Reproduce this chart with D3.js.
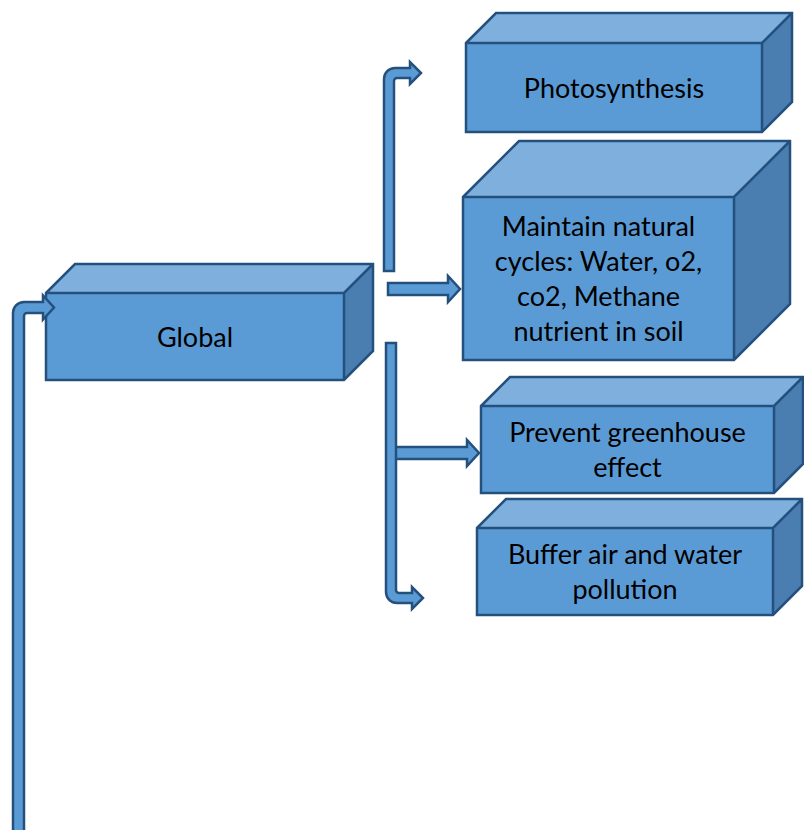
<!DOCTYPE html>
<html>
<head>
<meta charset="utf-8">
<script src="https://cdn.jsdelivr.net/npm/d3@7"></script>
<style>
  body { margin: 0; background: #fff; }
  svg { display: block; }
</style>
</head>
<body>
<div id="graph-01"></div>
<script>
(function(){
    var WIDTH  = 804,
        HEIGHT = 830;

    // box labels (one line per entry)
    var labels = [
        ['Global'],
        ['Photosynthesis'],
        ['Maintain natural', 'cycles: Water, o2,', 'co2, Methane', 'nutrient in soil'],
        ['Prevent greenhouse', 'effect'],
        ['Buffer air and water', 'pollution']
    ];

    // front face [x0, y0, x1, y1] and depth of each box
    var boxFront = [
        [46, 293, 344, 380],
        [466, 43, 762, 132],
        [463, 197, 734, 360],
        [481, 406, 774, 493],
        [477, 528, 773, 615]
    ];
    var boxDepth = [29, 30, 56, 29, 29];

    var FRONT  = '#5b9bd5',
        TOP    = '#7eafdd',
        SIDE   = '#4a7db0',
        STROKE = '#24507e',
        LINE_H = 35;

    var svg = d3.select('div#graph-01')
        .append('svg')
        .attr('width', WIDTH)
        .attr('height', HEIGHT);

    var boxG = svg.append('g').attr('class', 'boxes');
    var arrowG = svg.append('g').attr('class', 'arrows');

    // ---- arrows ----
    // bent arrow: vertical shaft [xl, xr] from yEnd to the turn, then right to a head
    function bentArrow(o){
        var p = d3.path();
        var R = 11, r = 3;
        if(o.up){
            // shaft top edge at o.yTurn, horizontal shaft o.yTurn .. o.yTurn + w
            var w = o.xr - o.xl, yt = o.yTurn, yb = yt + w, yc = (yt + yb) / 2;
            p.moveTo(o.xl, o.yEnd);
            p.lineTo(o.xl, yt + R);
            p.arcTo(o.xl, yt, o.xl + R, yt, R);
            p.lineTo(o.base, yt);
            p.lineTo(o.base, yc - o.half);
            p.lineTo(o.tip, yc);
            p.lineTo(o.base, yc + o.half);
            p.lineTo(o.base, yb);
            p.lineTo(o.xr + r, yb);
            p.arcTo(o.xr, yb, o.xr, yb + r, r);
            p.lineTo(o.xr, o.yEnd);
            p.closePath();
        } else {
            var w2 = o.xr - o.xl, yb2 = o.yTurn, yt2 = yb2 - w2, yc2 = (yt2 + yb2) / 2;
            p.moveTo(o.xl, o.yEnd);
            p.lineTo(o.xl, yb2 - R);
            p.arcTo(o.xl, yb2, o.xl + R, yb2, R);
            p.lineTo(o.base, yb2);
            p.lineTo(o.base, yc2 + o.half);
            p.lineTo(o.tip, yc2);
            p.lineTo(o.base, yc2 - o.half);
            p.lineTo(o.base, yt2);
            p.lineTo(o.xr + r, yt2);
            p.arcTo(o.xr, yt2, o.xr, yt2 - r, r);
            p.lineTo(o.xr, o.yEnd);
            p.closePath();
        }
        return p.toString();
    }

    function straightArrow(o){
        var yc = (o.y0 + o.y1) / 2;
        return 'M' + o.x0 + ',' + o.y0 +
            'L' + o.base + ',' + o.y0 +
            'L' + o.base + ',' + (yc - o.half) +
            'L' + o.tip + ',' + yc +
            'L' + o.base + ',' + (yc + o.half) +
            'L' + o.base + ',' + o.y1 +
            'L' + o.x0 + ',' + o.y1 + 'Z';
    }

    var arrows = [
        bentArrow({ up: true,  xl: 13,  xr: 24,  yEnd: 834, yTurn: 302, base: 43,  tip: 54,  half: 12 }),
        bentArrow({ up: true,  xl: 384, xr: 394, yEnd: 271, yTurn: 68,  base: 410, tip: 421, half: 11 }),
        straightArrow({ x0: 388, y0: 283, y1: 295, base: 448, tip: 460, half: 13 }),
        straightArrow({ x0: 395, y0: 447, y1: 459, base: 467, tip: 479, half: 13 }),
        bentArrow({ up: false, xl: 386, xr: 396, yEnd: 343, yTurn: 603, base: 412, tip: 423, half: 11 })
    ];

    // ---- 3d boxes ----
    var boxes = labels.map(function(l, i){
        return { lines: l, f: boxFront[i], d: boxDepth[i] };
    });

    var b = boxG.selectAll('g.box')
        .data(boxes)
        .enter().append('g')
        .attr('class', 'box');

    b.append('polygon')
        .attr('points', function(d){
            var f = d.f, k = d.d;
            return [[f[0], f[1]], [f[0] + k, f[1] - k], [f[2] + k, f[1] - k], [f[2], f[1]]].join(' ');
        })
        .attr('fill', TOP);

    b.append('polygon')
        .attr('points', function(d){
            var f = d.f, k = d.d;
            return [[f[2], f[1]], [f[2] + k, f[1] - k], [f[2] + k, f[3] - k], [f[2], f[3]]].join(' ');
        })
        .attr('fill', SIDE);

    b.append('rect')
        .attr('x', function(d){ return d.f[0]; })
        .attr('y', function(d){ return d.f[1]; })
        .attr('width', function(d){ return d.f[2] - d.f[0]; })
        .attr('height', function(d){ return d.f[3] - d.f[1]; })
        .attr('fill', FRONT);

    // outline of the whole box
    b.append('path')
        .attr('d', function(d){
            var f = d.f, k = d.d;
            return 'M' + f[0] + ',' + f[1] +
                'L' + (f[0] + k) + ',' + (f[1] - k) +
                'L' + (f[2] + k) + ',' + (f[1] - k) +
                'L' + (f[2] + k) + ',' + (f[3] - k) +
                'L' + f[2] + ',' + f[3] +
                'L' + f[0] + ',' + f[3] + 'Z' +
                'M' + f[0] + ',' + f[1] + 'L' + f[2] + ',' + f[1] +
                'L' + (f[2] + k) + ',' + (f[1] - k) +
                'M' + f[2] + ',' + f[1] + 'L' + f[2] + ',' + f[3];
        })
        .attr('fill', 'none')
        .attr('stroke', STROKE)
        .attr('stroke-width', 2.5)
        .attr('stroke-linejoin', 'miter');

    b.append('text')
        .attr('text-anchor', 'middle')
        .attr('font-family', 'Lato, "Open Sans", sans-serif')
        .attr('font-size', 27)
        .attr('fill', '#000')
        .each(function(d){
            var cx = (d.f[0] + d.f[2]) / 2,
                cy = (d.f[1] + d.f[3]) / 2,
                n = d.lines.length,
                first = cy + 10 - (n - 1) * LINE_H / 2;
            d3.select(this).selectAll('tspan')
                .data(d.lines)
                .enter().append('tspan')
                .attr('x', cx)
                .attr('y', function(t, j){ return first + j * LINE_H; })
                .text(function(t){ return t; });
        });

    // arrows go on top (the left one overlaps the Global box)
    arrowG.selectAll('path')
        .data(arrows)
        .enter().append('path')
        .attr('d', function(d){ return d; })
        .attr('fill', FRONT)
        .attr('stroke', STROKE)
        .attr('stroke-width', 2.5)
        .attr('stroke-linejoin', 'miter');

})();
</script>
</body>
</html>
